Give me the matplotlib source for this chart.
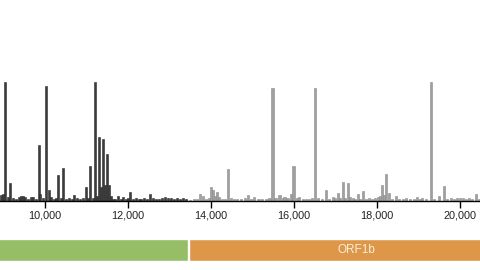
import numpy as np
import matplotlib.pyplot as plt

plt.rcParams['font.family'] = ['Liberation Sans', 'DejaVu Sans']

# genome position (nt) and count, ORF1a part (dark bars)
pos_1a = [8937, 8986, 9034, 9106, 9155, 9227, 9300, 9372, 9420, 9469, 9517, 9589,
          9662, 9710, 9783, 9855, 9879, 9952, 10024, 10097, 10145, 10217, 10266,
          10314, 10386, 10435, 10507, 10580, 10652, 10700, 10773, 10845, 10918,
          10990, 11038, 11087, 11159, 11208, 11256, 11304, 11352, 11401, 11449,
          11497, 11546, 11594, 11642, 11691, 11763, 11835, 11884, 11956, 12004,
          12053, 12125, 12198, 12270, 12318, 12391, 12463, 12536, 12608, 12681,
          12753, 12826, 12898, 12970, 13043, 13115, 13188, 13260, 13333, 13405]
cnt_1a = [6, 7, 118, 4, 18, 3, 2, 4, 5, 5, 4, 2,
          4, 4, 2, 55, 7, 3, 114, 11, 4, 2, 3,
          26, 3, 33, 2, 3, 2, 6, 3, 2, 3,
          14, 3, 35, 3, 118, 5, 63, 14, 61, 16,
          46, 16, 5, 2, 2, 5, 2, 4, 2, 3,
          9, 2, 3, 2, 2, 3, 2, 7, 3, 2,
          2, 3, 4, 3, 3, 2, 3, 2, 3, 2]

# ORF1b part (grey bars)
pos_1b = [13502, 13598, 13671, 13743, 13816, 13888, 13961, 14009, 14057, 14106,
          14154, 14202, 14275, 14347, 14419, 14492, 14564, 14637, 14733, 14830,
          14902, 14975, 15047, 15144, 15240, 15337, 15410, 15482, 15555, 15651,
          15724, 15772, 15844, 15917, 15989, 16062, 16110, 16207, 16279, 16352,
          16424, 16496, 16569, 16665, 16762, 16834, 16931, 16979, 17052, 17100,
          17172, 17221, 17293, 17342, 17414, 17462, 17535, 17583, 17655, 17728,
          17800, 17873, 17945, 18018, 18066, 18114, 18163, 18211, 18283, 18356,
          18452, 18525, 18622, 18694, 18791, 18887, 18960, 19032, 19080, 19177,
          19298, 19370, 19491, 19612, 19684, 19781, 19853, 19926, 19998, 20071,
          20143, 20215, 20288, 20384, 20457]
cnt_1b = [1, 2, 2, 7, 5, 2, 3, 14, 11, 5,
          9, 4, 2, 2, 32, 3, 2, 2, 2, 3,
          6, 2, 4, 2, 2, 2, 3, 112, 3, 6,
          3, 4, 3, 7, 35, 3, 4, 2, 2, 2,
          3, 112, 3, 2, 11, 2, 4, 3, 8, 3,
          19, 3, 18, 4, 3, 2, 7, 2, 10, 2,
          3, 2, 3, 4, 5, 16, 6, 27, 8, 2,
          5, 2, 2, 3, 2, 2, 4, 2, 3, 2,
          118, 2, 5, 15, 2, 3, 2, 3, 3, 3,
          2, 3, 2, 7, 2]

genes = ['ORF1a', 'ORF1b']
gene_start = [266, 13468]
gene_end = [13441, 21555]
gene_colors = ['#96be66', '#de9748']

xmin, xmax = 8916, 20482

fig = plt.figure(figsize=(4.8, 2.7), dpi=100)

ax = fig.add_axes([0, 0.257, 1, 0.743])
ax.bar(pos_1a, cnt_1a, width=50, color='#3c3c3c', edgecolor='#2a2a2a', linewidth=0.4)
ax.bar(pos_1b, cnt_1b, width=50, color='#a0a0a0', edgecolor='#8a8a8a', linewidth=0.4)
ax.set_xlim(xmin, xmax)
ax.set_ylim(0, 200)
for s in ['top', 'right', 'left']:
    ax.spines[s].set_visible(False)
ax.spines['bottom'].set_linewidth(1.0)
ax.set_yticks([])
ticks = [10000, 12000, 14000, 16000, 18000, 20000]
ax.set_xticks(ticks)
ax.set_xticklabels(['{:,}'.format(t) for t in ticks], fontsize=7.8, color='#222222')
ax.tick_params(axis='x', length=5, width=1, pad=2)

gax = fig.add_axes([0, 0.033, 1, 0.081])
for name, s, e, c in zip(genes, gene_start, gene_end, gene_colors):
    gax.barh(0, e - s, left=s, height=1, color=c, edgecolor='white', linewidth=1)
    mid = (s + e) / 2
    if xmin < mid < xmax:
        gax.text(mid, 0, name, ha='center', va='center', color='#fbeedd', fontsize=8.5)
gax.set_xlim(xmin, xmax)
gax.set_ylim(-0.5, 0.5)
gax.axis('off')

plt.savefig('out.png', dpi=100)
